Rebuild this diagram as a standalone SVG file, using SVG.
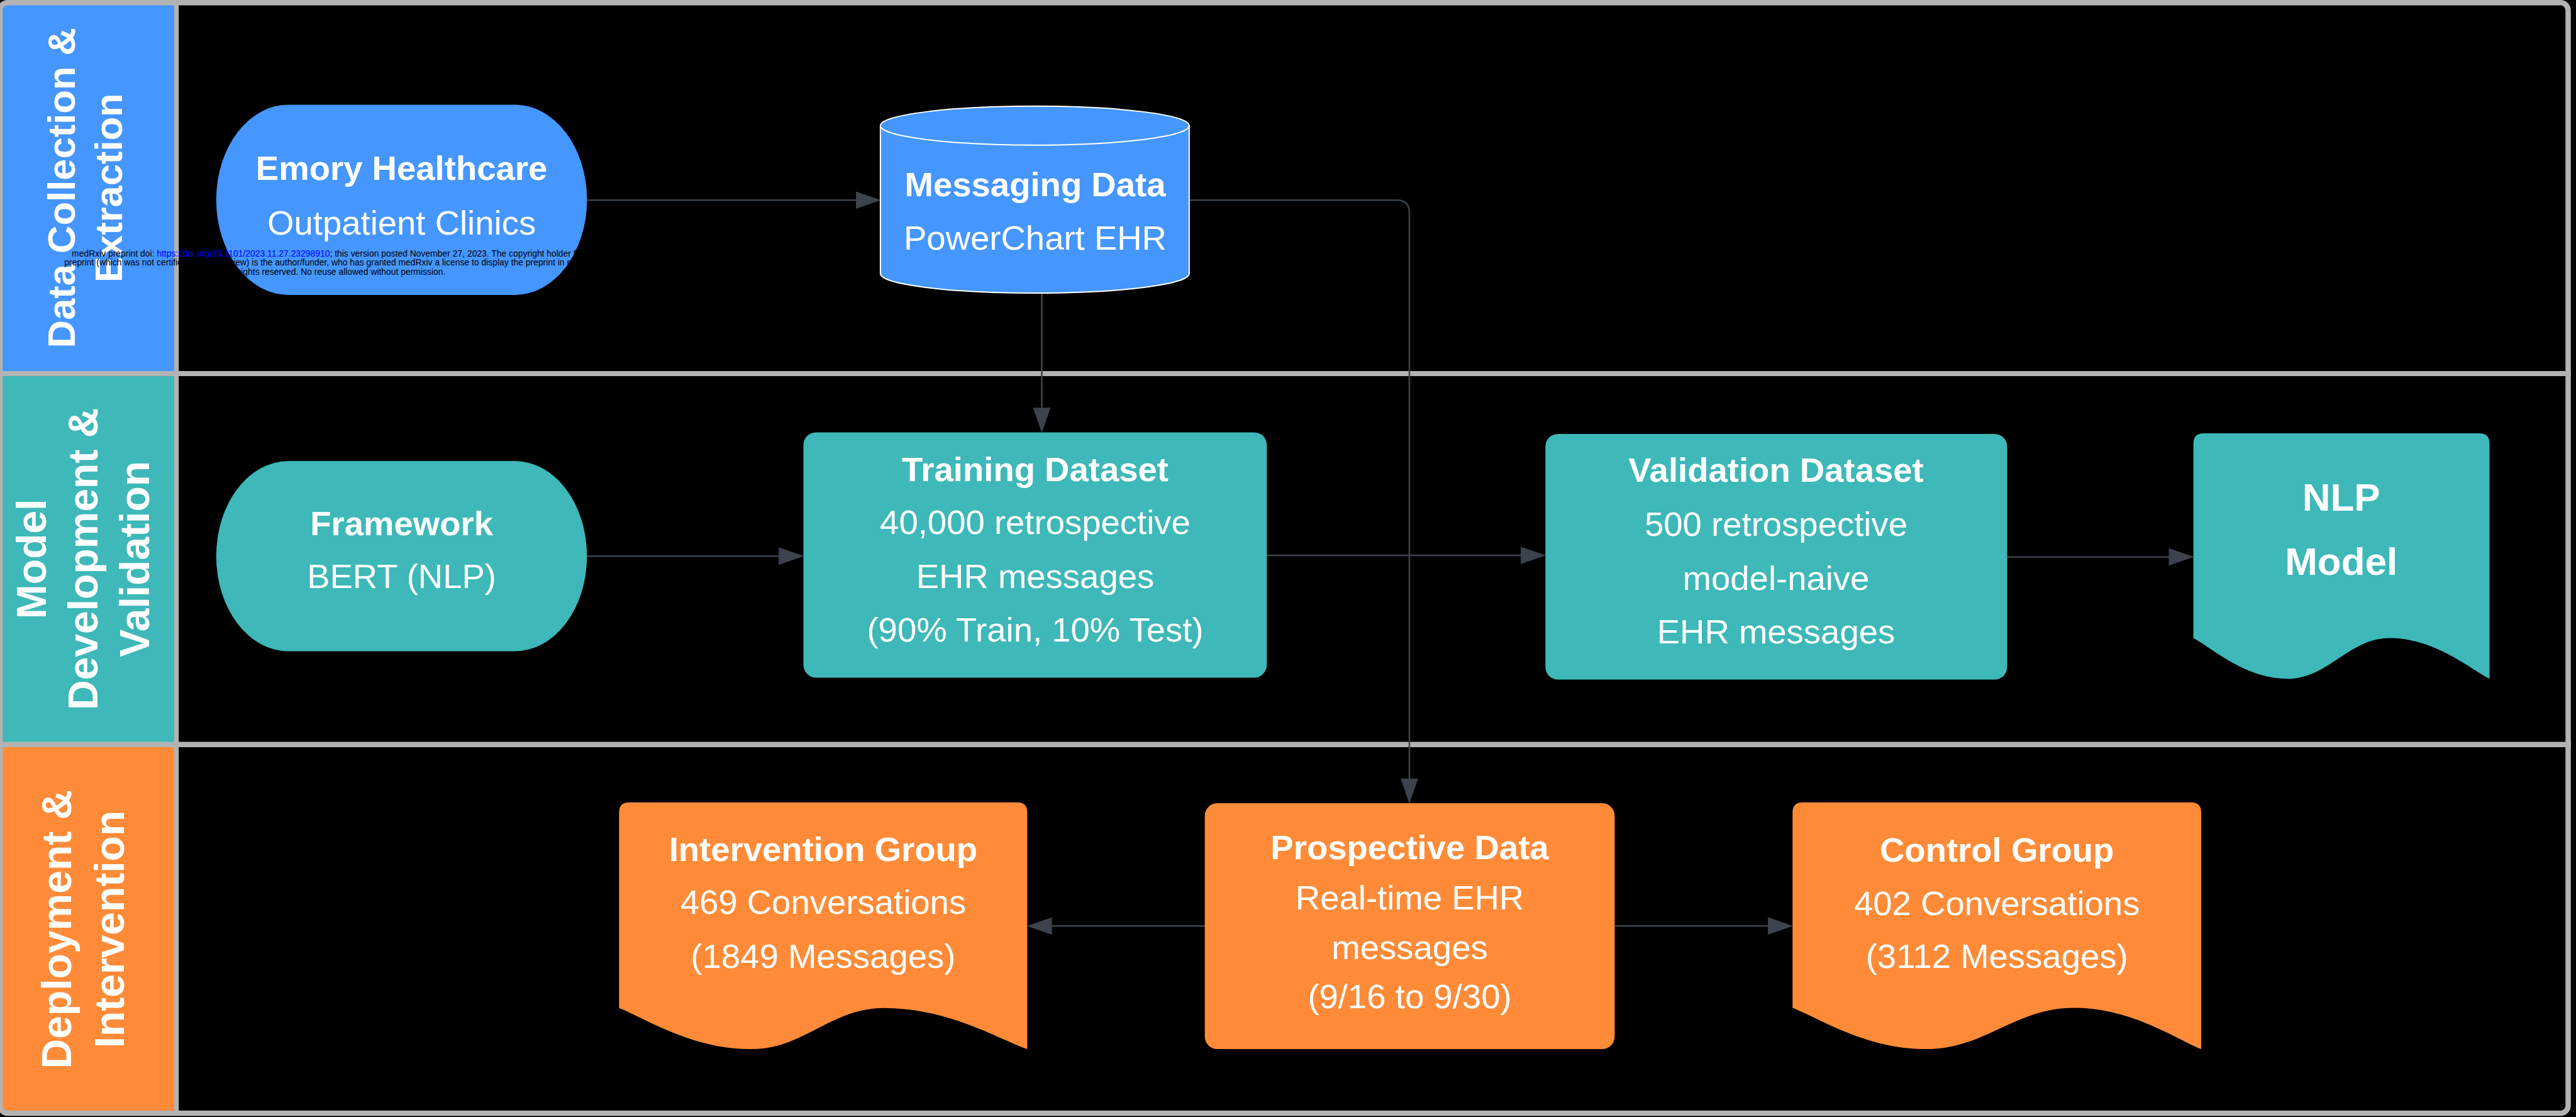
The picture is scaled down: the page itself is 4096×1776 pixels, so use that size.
<svg xmlns="http://www.w3.org/2000/svg" width="4096" height="1776" viewBox="0 0 4096 1776">
<defs>
<style>
.lt{font-family:"Liberation Sans",Arial,sans-serif;font-weight:bold;fill:#ffffff;text-anchor:middle;}
.lt1{font-size:61.5px;}
.lt2{font-size:66px;}
.t{font-family:"Liberation Sans",Arial,sans-serif;font-size:54.5px;fill:#ffffff;text-anchor:middle;}
.b{font-weight:bold;}
.big{font-size:62px;}
.conn{fill:none;stroke:#3c434c;stroke-width:2.6;marker-end:url(#arr);}
.div{stroke:#b3b3b3;fill:none;}
.blue{fill:#4596ff;}
.teal{fill:#3eb8b8;}
.orange{fill:#ff8b38;}
.wm{font-family:"Liberation Sans",Arial,sans-serif;font-size:13.9px;fill:#000000;text-anchor:middle;}
</style>
<marker id="arr" markerUnits="userSpaceOnUse" markerWidth="40" markerHeight="28" viewBox="0 0 39 27" refX="9" refY="13.5" orient="auto">
<path d="M0,0 L39,13.5 L0,27 Z" fill="#3c434c"/>
</marker>
<clipPath id="frameClip"><rect x="0" y="0" width="4088" height="1774" rx="14"/></clipPath>
</defs>
<rect x="0" y="0" width="4096" height="1776" fill="#000000"/>
<g id="lanes" clip-path="url(#frameClip)">
<rect class="blue" x="0" y="0" width="280" height="594"/>
<rect class="teal" x="0" y="594" width="280" height="590"/>
<rect class="orange" x="0" y="1184" width="280" height="592"/>
<line class="div" x1="0" y1="594" x2="4096" y2="594" stroke-width="8"/>
<line class="div" x1="0" y1="1183.8" x2="4096" y2="1183.8" stroke-width="8.5"/>
<line class="div" x1="280.6" y1="0" x2="280.6" y2="1776" stroke-width="7.2"/>
</g>
<rect id="frame" class="div" x="0" y="4.25" width="4083.5" height="1765.7" rx="12" stroke-width="8.5"/>
<g id="lane-titles">
<g id="lane1-title">
<text class="lt lt1" transform="translate(119.2,298.7) rotate(-90)">Data Collection &amp;</text>
<text class="lt lt1" transform="translate(193.9,298.7) rotate(-90)">Extraction</text>
</g>
<g id="lane2-title">
<text class="lt lt2" transform="translate(73.4,888.8) rotate(-90)">Model</text>
<text class="lt lt2" transform="translate(155.2,888.8) rotate(-90)">Development &amp;</text>
<text class="lt lt2" transform="translate(237.1,888.8) rotate(-90)">Validation</text>
</g>
<g id="lane3-title">
<text class="lt lt2" transform="translate(113.3,1477.6) rotate(-90)">Deployment &amp;</text>
<text class="lt lt2" transform="translate(197.1,1477.6) rotate(-90)">Intervention</text>
</g>
</g>
<g id="connectors">
<path class="conn" d="M933.3,318.3 L1369.9,318.3"/>
<path class="conn" d="M1656.5,466 L1656.5,657.4"/>
<path class="conn" d="M1890.9,318.3 L2221,318.3 Q2241,318.3 2241,338.3 L2241,1247.1"/>
<path class="conn" d="M933.3,884.2 L1247.5,884.2"/>
<path class="conn" d="M2014.3,883 L2427.3,883"/>
<path class="conn" d="M3191.5,885.5 L3457.7,885.5"/>
<path class="conn" d="M1915.7,1472.3 L1663.4,1472.3"/>
<path class="conn" d="M2567.4,1472.2 L2820.3,1472.2"/>
</g>
<g id="node-emory">
<path class="blue" d="M458.5,166.4 L818.6,166.4 A114.7,151.3 0 0 1 933.3,317.7 A114.7,151.3 0 0 1 818.6,469 L458.5,469 A114.7,151.3 0 0 1 343.8,317.7 A114.7,151.3 0 0 1 458.5,166.4 Z"/>
<text class="t b" x="638.6" y="285.6">Emory Healthcare</text>
<text class="t" x="638.6" y="373.3">Outpatient Clinics</text>
</g>
<g id="node-messaging">
<path class="blue" d="M1399.9,199.8 A245.5,31 0 0 1 1890.9,199.8 L1890.9,435 A245.5,31 0 0 1 1399.9,435 Z" stroke="#ffffff" stroke-width="2"/>
<path d="M1399.9,199.8 A245.5,31 0 0 0 1890.9,199.8" fill="none" stroke="#ffffff" stroke-width="2"/>
<text class="t b" x="1646" y="312.4">Messaging Data</text>
<text class="t" x="1646" y="396.9">PowerChart EHR</text>
</g>
<g id="node-framework">
<path class="teal" d="M458.5,733 L818.6,733 A114.7,151.25 0 0 1 933.3,884.25 A114.7,151.25 0 0 1 818.6,1035.5 L458.5,1035.5 A114.7,151.25 0 0 1 343.8,884.25 A114.7,151.25 0 0 1 458.5,733 Z"/>
<text class="t b" x="638.6" y="850.8">Framework</text>
<text class="t" x="638.6" y="935.2">BERT (NLP)</text>
</g>
<g id="node-training">
<rect class="teal" x="1277.5" y="687.4" width="736.8" height="390" rx="20"/>
<text class="t b" x="1646" y="764.7">Training Dataset</text>
<text class="t" x="1646" y="848.8">40,000 retrospective</text>
<text class="t" x="1646" y="934.6">EHR messages</text>
<text class="t" x="1646" y="1020.4">(90% Train, 10% Test)</text>
</g>
<g id="node-validation">
<rect class="teal" x="2457.3" y="690" width="734.2" height="390.5" rx="20"/>
<text class="t b" x="2824" y="766.3">Validation Dataset</text>
<text class="t" x="2824" y="852.1">500 retrospective</text>
<text class="t" x="2824" y="937.9">model-naive</text>
<text class="t" x="2824" y="1023">EHR messages</text>
</g>
<g id="node-nlp">
<path class="teal" d="M3487.7,705 Q3487.7,689 3503.7,689 L3942.5,689 Q3958.5,689 3958.5,705 L3958.5,1079.3 C3926.7,1063.1 3871.2,1014.5 3799.7,1014.5 C3734.7,1014.5 3702.3,1079.3 3637.3,1079.3 C3570,1079.3 3517.6,1030.7 3487.7,1014.5 Z"/>
<text class="t b big" x="3722.7" y="811.5">NLP</text>
<text class="t b big" x="3722.7" y="913.6">Model</text>
</g>
<g id="node-intervention">
<path class="orange" d="M984.4,1291.8 Q984.4,1275.8 1000.4,1275.8 L1617.4,1275.8 Q1633.4,1275.8 1633.4,1291.8 L1633.4,1668.1 C1587.8,1651.8 1508.1,1602.8 1405.5,1602.8 C1320.9,1602.8 1278.5,1668.1 1193.9,1668.1 C1099.6,1668.1 1026.3,1619.1 984.4,1602.8 Z"/>
<text class="t b" x="1308.9" y="1368.8">Intervention Group</text>
<text class="t" x="1308.9" y="1453.3">469 Conversations</text>
<text class="t" x="1308.9" y="1538.5">(1849 Messages)</text>
</g>
<g id="node-prospective">
<rect class="orange" x="1915.7" y="1277.1" width="651.7" height="391" rx="20"/>
<text class="t b" x="2241.5" y="1366.2">Prospective Data</text>
<text class="t" x="2241.5" y="1446.1">Real-time EHR</text>
<text class="t" x="2241.5" y="1525.4">messages</text>
<text class="t" x="2241.5" y="1602.6">(9/16 to 9/30)</text>
</g>
<g id="node-control">
<path class="orange" d="M2850.3,1291.8 Q2850.3,1275.8 2866.3,1275.8 L3484,1275.8 Q3500,1275.8 3500,1291.8 L3500,1668.1 C3459.5,1651.7 3388.7,1602.5 3297.6,1602.5 C3203.6,1602.5 3156.5,1668.1 3062.5,1668.1 C2967,1668.1 2892.7,1618.9 2850.3,1602.5 Z"/>
<text class="t b" x="3175.2" y="1370.1">Control Group</text>
<text class="t" x="3175.2" y="1455.3">402 Conversations</text>
<text class="t" x="3175.2" y="1539.2">(3112 Messages)</text>
</g>
<g id="watermark">
<text class="wm" x="533.8" y="408">medRxiv preprint doi: <tspan fill="#0000ff">https://doi.org/10.1101/2023.11.27.23298910</tspan>; this version posted November 27, 2023. The copyright holder for this</text>
<text class="wm" x="533.8" y="422.3">preprint (which was not certified by peer review) is the author/funder, who has granted medRxiv a license to display the preprint in perpetuity.</text>
<text class="wm" x="533.8" y="436.6">All rights reserved. No reuse allowed without permission.</text>
</g>
</svg>
